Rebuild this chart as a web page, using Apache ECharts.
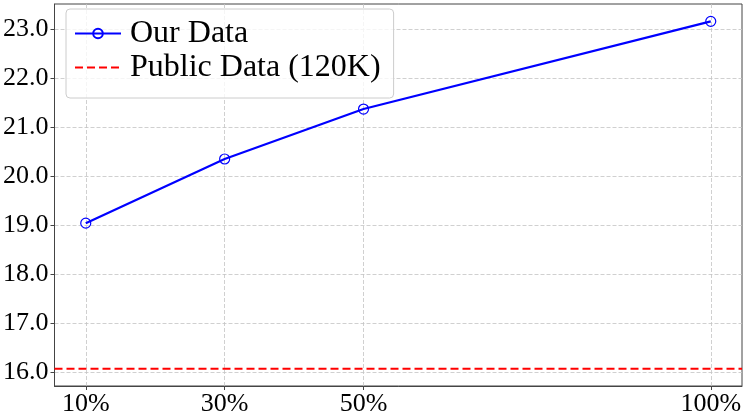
<!DOCTYPE html>
<html>
<head>
<meta charset="utf-8">
<script src="https://cdn.jsdelivr.net/npm/echarts@6/dist/echarts.min.js"></script>
<style>
  html, body { margin: 0; padding: 0; background: #fff; }
  #chart { width: 747px; height: 417px; }
</style>
</head>
<body>
<div id="chart"></div>
<script>
// data
const fractions = [10, 30, 50, 100];
const ourData = [19.04, 20.35, 21.37, 23.16];
const publicValue = 16.07;
const xTicks = [10, 30, 50, 100];
const yTicks = [16, 17, 18, 19, 20, 21, 22, 23];
const xRange = [5.5, 104.5];
const yRange = [15.7155, 23.5145];

const font = "Liberation Serif";
const gridColor = "#c4c4c4";

var myChart = echarts.init(document.getElementById("chart"));
myChart.setOption({
  animation: false,
  grid: {
    left: 54,
    right: 5,
    top: 4,
    bottom: 31,
    show: true,
    borderColor: "#444",
    borderWidth: 1,
  },
  legend: {
    orient: "vertical",
    left: 66,
    top: 9,
    padding: [8, 13, 14, 8],
    itemWidth: 46,
    itemHeight: 12,
    itemGap: 1,
    backgroundColor: "rgba(255,255,255,0.8)",
    borderColor: "#cccccc",
    borderWidth: 1,
    borderRadius: 4,
    textStyle: {
      fontFamily: font,
      fontSize: 32,
      lineHeight: 33,
      color: "#000",
      padding: [0, 0, 0, 4],
    },
    data: [
      "Our Data",
      // dashed line only, no marker
      { name: "Public Data (120K)", itemStyle: { opacity: 0 } },
    ],
  },
  xAxis: {
    type: "value",
    min: xRange[0],
    max: xRange[1],
    axisLine: { show: true, lineStyle: { color: "#444", width: 1 } },
    axisTick: {
      show: true,
      length: 4,
      customValues: xTicks,
      lineStyle: { color: "#444" },
    },
    axisLabel: {
      customValues: xTicks,
      formatter: (v) => v + "%",
      fontFamily: font,
      fontSize: 26,
      color: "#000",
      margin: 5,
    },
    splitLine: {
      show: true,
      lineStyle: { color: gridColor, type: [4, 2], width: 0.8 },
    },
  },
  yAxis: {
    type: "value",
    min: yRange[0],
    max: yRange[1],
    axisLine: { show: true, lineStyle: { color: "#444", width: 1 } },
    axisTick: {
      show: true,
      length: 4,
      customValues: yTicks,
      lineStyle: { color: "#444" },
    },
    axisLabel: {
      customValues: yTicks,
      formatter: (v) => v.toFixed(1),
      fontFamily: font,
      fontSize: 26,
      color: "#000",
      margin: 6,
    },
    splitLine: {
      show: true,
      lineStyle: { color: gridColor, type: [4, 2], width: 0.8 },
    },
  },
  series: [
    {
      name: "Our Data",
      type: "line",
      data: fractions.map((f, i) => [f, ourData[i]]),
      symbol: "circle",
      symbolSize: 10,
      lineStyle: { color: "#0000ff", width: 2.2 },
      itemStyle: {
        color: "rgba(0,0,0,0)",
        borderColor: "#0000ff",
        borderWidth: 1.2,
      },
      z: 3,
    },
    {
      name: "Public Data (120K)",
      type: "line",
      // horizontal reference line across the whole axis range
      data: xRange.map((x) => [x, publicValue]),
      symbol: "none",
      showSymbol: false,
      lineStyle: { color: "#ff0000", width: 2, type: [8, 4] },
      itemStyle: { color: "#ff0000" },
      z: 2,
    },
  ],
});
</script>
</body>
</html>
